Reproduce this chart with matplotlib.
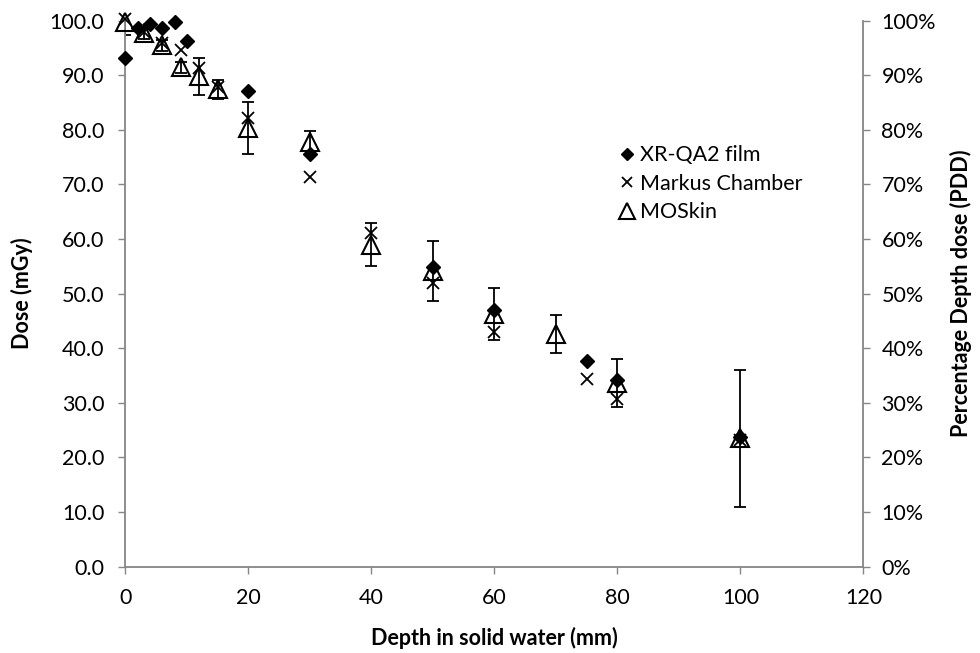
import matplotlib
matplotlib.use("Agg")
import matplotlib.pyplot as plt
from matplotlib.ticker import PercentFormatter, MultipleLocator, FormatStrFormatter

plt.rcParams['font.family'] = ['Lato', 'DejaVu Sans']

# XR-QA2 film
film_x = [0, 2, 4, 6, 8, 10, 20, 30, 50, 60, 75, 80, 100]
film_y = [93.1, 98.6, 99.4, 98.6, 99.8, 96.3, 87.2, 75.5, 54.9, 47.0, 37.7, 34.1, 23.8]

# Markus Chamber
markus_x = [0, 3, 6, 9, 12, 15, 20, 30, 40, 50, 60, 75, 80, 100]
markus_y = [100.3, 98.0, 96.0, 94.6, 91.3, 87.8, 82.1, 71.4, 61.1, 51.9, 43.0, 34.4, 30.8, 23.2]

# MOSkin with error bars
mos_x = [0, 3, 6, 9, 12, 15, 20, 30, 40, 50, 60, 70, 80, 100]
mos_y = [99.8, 97.7, 95.5, 91.5, 89.8, 87.4, 80.4, 77.7, 59.0, 54.2, 46.3, 42.6, 33.6, 23.5]
mos_err = [2.4, 1.0, 1.0, 1.0, 3.4, 1.8, 4.8, 2.1, 4.0, 5.5, 4.7, 3.5, 4.4, 12.5]

x_ticks = [0, 20, 40, 60, 80, 100, 120]

gray = '#868686'
fs = 15.5

fig = plt.figure(figsize=(9.8, 6.53), dpi=100)
ax = fig.add_axes([0.1279, 0.1322, 0.7531, 0.8361])

ax.errorbar(mos_x, mos_y, yerr=mos_err, fmt='none', ecolor='black',
            elinewidth=1.3, capsize=4.5, capthick=1.3, zorder=2)
ax.plot(film_x, film_y, linestyle='none', marker='D', ms=7, color='black',
        label='XR-QA2 film', zorder=3, clip_on=False)
ax.plot(markus_x, markus_y, linestyle='none', marker='x', ms=8, mew=1.3,
        color='black', label='Markus Chamber', zorder=4, clip_on=False)
ax.plot(mos_x, mos_y, linestyle='none', marker='^', ms=13, mew=1.5,
        mfc='none', mec='black', label='MOSkin', zorder=5, clip_on=False)

ax.set_xlim(0, 120)
ax.set_ylim(0, 100)
ax.set_xticks(x_ticks)
ax.yaxis.set_major_locator(MultipleLocator(10))
ax.yaxis.set_major_formatter(FormatStrFormatter('%.1f'))

for s in ['top', 'right']:
    ax.spines[s].set_visible(False)
for s in ['left', 'bottom']:
    ax.spines[s].set_color(gray)
    ax.spines[s].set_linewidth(1.3)
ax.tick_params(axis='both', colors=gray, labelcolor='black', labelsize=fs,
               length=5, width=1.0, direction='out')
ax.tick_params(axis='x', pad=10)
ax.tick_params(axis='y', pad=10)

ax2 = ax.twinx()
ax2.set_ylim(0, 1)
ax2.yaxis.set_major_locator(MultipleLocator(0.1))
ax2.yaxis.set_major_formatter(PercentFormatter(1.0, decimals=0))
for s in ['top', 'left', 'bottom']:
    ax2.spines[s].set_visible(False)
ax2.spines['right'].set_color(gray)
ax2.spines['right'].set_linewidth(1.3)
ax2.tick_params(axis='y', colors=gray, labelcolor='black', labelsize=fs,
                length=5, width=1.0, direction='out', pad=8)

ax.set_xlabel('Depth in solid water (mm)', fontsize=fs, fontweight='bold', labelpad=14)
ax.set_ylabel('Dose (mGy)', fontsize=fs, fontweight='bold', labelpad=12)
ax2.set_ylabel('Percentage Depth dose (PDD)', fontsize=fs, fontweight='bold', labelpad=10)

leg = ax.legend(loc='upper left', bbox_to_anchor=(0.618, 0.791), bbox_transform=fig.transFigure,
                frameon=False, fontsize=fs, handletextpad=0.0, handlelength=1.2,
                labelspacing=0.4, borderaxespad=0)
for h in leg.legend_handles:
    h.set_markersize(h.get_markersize() * 0.85)

fig.savefig('out.png', dpi=100)
